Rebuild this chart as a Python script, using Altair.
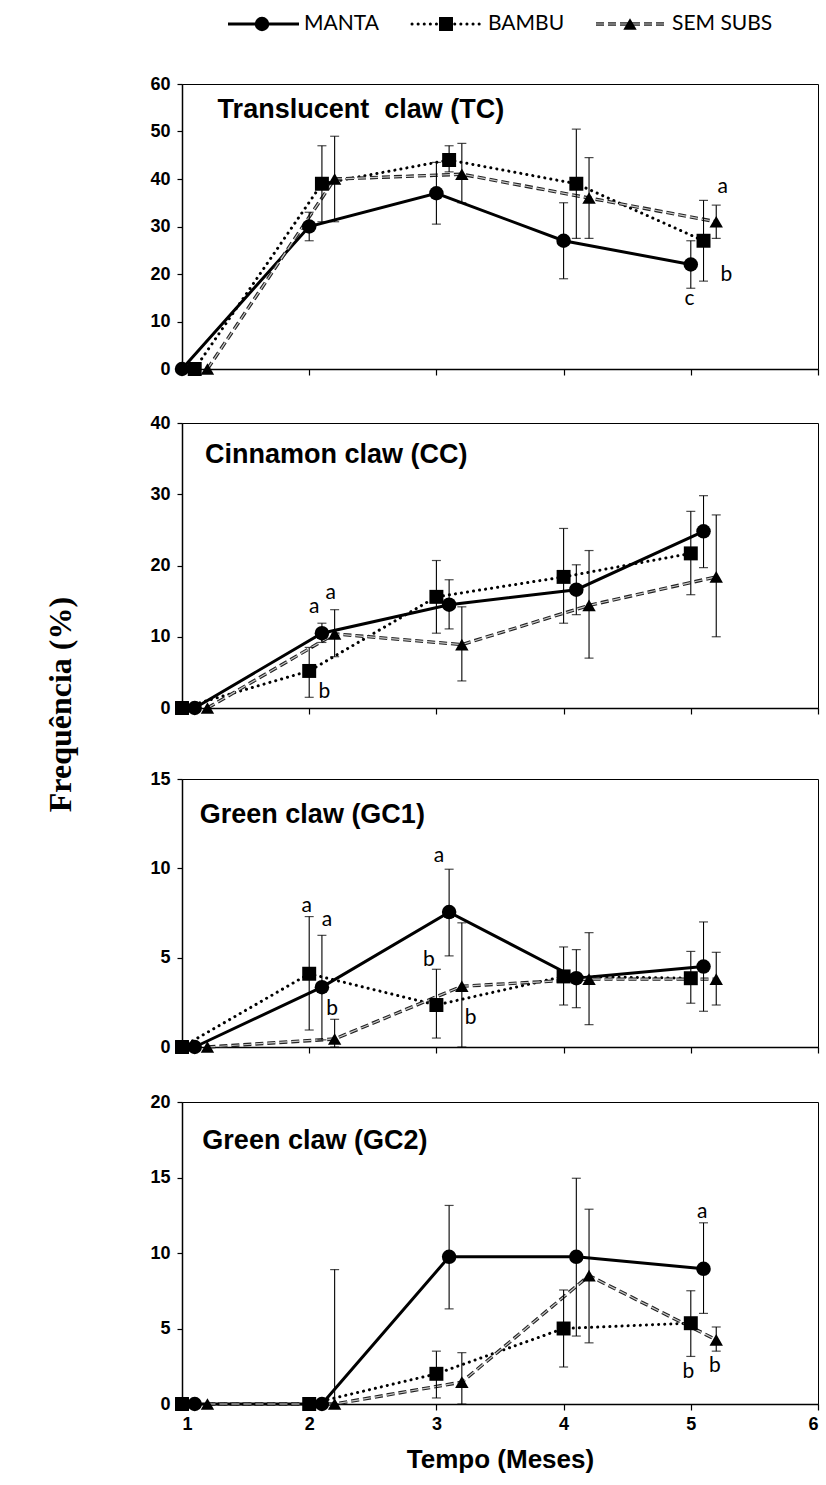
import altair as alt
import pandas as pd

# ---------------- data ----------------
months = [1, 2, 3, 4, 5]
series = ["MANTA", "BAMBU", "SEM SUBS"]

# Translucent claw (TC)
tc_manta = [0, 30, 37, 27, 22]
tc_manta_lo = [0, 27, 30.5, 19, 17]
tc_manta_hi = [0, 33, 43.5, 35, 27]
tc_bambu = [0, 39, 44, 39, 27]
tc_bambu_lo = [0, 31, 41.5, 27.5, 18.5]
tc_bambu_hi = [0, 47, 47, 50.5, 35.5]
tc_sem = [0, 40, 41, 36, 31]
tc_sem_lo = [0, 31, 35, 27.5, 27.5]
tc_sem_hi = [0, 49, 47.5, 44.5, 34.5]
tc_letters = ["a", "b", "c"]
tc_letters_x = [5.25, 5.28, 4.99]
tc_letters_y = [38.3, 19.8, 14.8]

# Cinnamon claw (CC)
cc_manta = [0, 10.5, 14.5, 16.6, 24.8]
cc_manta_lo = [0, 9.2, 11.1, 13.1, 19.7]
cc_manta_hi = [0, 11.9, 18.0, 20.1, 29.8]
cc_bambu = [0, 5.2, 15.6, 18.4, 21.7]
cc_bambu_lo = [0, 1.5, 10.5, 11.9, 15.9]
cc_bambu_hi = [0, 8.5, 20.7, 25.2, 27.6]
cc_sem = [0, 10.4, 8.9, 14.4, 18.4]
cc_sem_lo = [0, 7.2, 3.8, 7.0, 10.0]
cc_sem_hi = [0, 13.8, 14.2, 22.1, 27.1]
cc_letters = ["a", "a", "b"]
cc_letters_x = [2.04, 2.17, 2.12]
cc_letters_y = [14.2, 16.2, 2.2]

# Green claw (GC1)
gc1_manta = [0, 3.35, 7.55, 3.85, 4.5]
gc1_manta_lo = [0, 0.4, 5.1, 2.2, 2.0]
gc1_manta_hi = [0, 6.25, 9.95, 5.45, 7.0]
gc1_bambu = [0, 4.1, 2.35, 3.95, 3.85]
gc1_bambu_lo = [0, 0.95, 0.5, 2.35, 2.45]
gc1_bambu_hi = [0, 7.3, 4.35, 5.6, 5.35]
gc1_sem = [0, 0.45, 3.4, 3.8, 3.8]
gc1_sem_lo = [0, 0, 0, 1.25, 2.35]
gc1_sem_hi = [0, 1.55, 6.95, 6.4, 5.3]
gc1_letters = ["a", "a", "b", "a", "b", "b"]
gc1_letters_x = [1.98, 2.14, 2.18, 3.02, 2.94, 3.27]
gc1_letters_y = [7.9, 7.1, 2.1, 10.7, 4.85, 1.6]

# Green claw (GC2)
gc2_manta = [0, 0, 9.75, 9.75, 8.95]
gc2_manta_lo = [0, 0, 6.3, 4.5, 6.0]
gc2_manta_hi = [0, 0, 13.15, 14.95, 12.0]
gc2_bambu = [0, 0, 2.0, 5.0, 5.35]
gc2_bambu_lo = [0, 0, 0.4, 2.45, 3.15]
gc2_bambu_hi = [0, 0, 3.5, 7.55, 7.5]
gc2_sem = [0, 0, 1.45, 8.5, 4.25]
gc2_sem_lo = [0, 0, 0, 4.05, 3.5]
gc2_sem_hi = [0, 8.9, 3.4, 12.9, 5.1]
gc2_letters = ["a", "b", "b"]
gc2_letters_x = [5.09, 4.98, 5.19]
gc2_letters_y = [12.7, 2.1, 2.5]

# horizontal shift of each series around the month (display only)
shift_tc = {"MANTA": 0.0, "BAMBU": 0.1, "SEM SUBS": 0.2}
shift_other = {"BAMBU": 0.0, "MANTA": 0.1, "SEM SUBS": 0.2}

# ---------------- styling ----------------
PW = 636
NUM_FONT = "Liberation Sans"
TXT_FONT = "Lato"
TITLE_FONT = "Liberation Sans"

shape_scale = alt.Scale(domain=series, range=["circle", "square", "triangle-up"])
size_scale = alt.Scale(domain=series, range=[210, 180, 180])


def build(vals, los, his, shift):
    rows = []
    for s in series:
        for i, m in enumerate(months):
            rows.append({"series": s, "month": m, "x": m + shift[s],
                         "v": vals[s][i], "lo": los[s][i], "hi": his[s][i]})
    return pd.DataFrame(rows)


def panel(df, letters, lx, ly, title, tx, ty, ymax, ystep, height, last=False):
    xs = alt.Scale(domain=[1, 6], nice=False, zero=False)
    ys = alt.Scale(domain=[0, ymax], nice=False)
    if last:
        xax = alt.Axis(values=[1, 2, 3, 4, 5, 6], format="d", grid=False, tickSize=6,
                       labelFont=NUM_FONT, labelFontWeight="bold", labelFontSize=18,
                       labelPadding=5, title="Tempo (Meses)", titleFont=TITLE_FONT,
                       titleFontWeight="bold", titleFontSize=26, titlePadding=13,
                       labelColor="black", titleColor="black")
    else:
        xax = alt.Axis(values=[1, 2, 3, 4, 5, 6], grid=False, tickSize=6, labels=False, title=None)
    yax = alt.Axis(values=list(range(0, ymax + 1, ystep)), grid=False, tickSize=5,
                   labelFont=NUM_FONT, labelFontWeight="bold", labelFontSize=18,
                   labelPadding=7, labelColor="black", title=None)
    base = alt.Chart(df)

    manta_line = base.mark_line(color="black", strokeWidth=3).encode(
        x=alt.X("x:Q", scale=xs, axis=xax),
        y=alt.Y("v:Q", scale=ys, axis=yax)).transform_filter(alt.datum.series == "MANTA")
    bambu_line = base.mark_line(color="black", strokeWidth=3, strokeDash=[0.1, 6],
                                strokeCap="round").encode(x="x:Q", y="v:Q").transform_filter(
        alt.datum.series == "BAMBU")
    sem_line = base.mark_line(color="#222222", strokeWidth=3.4, strokeDash=[8, 4]).encode(
        x="x:Q", y="v:Q").transform_filter(alt.datum.series == "SEM SUBS")
    sem_line2 = base.mark_line(color="#c8c8c8", strokeWidth=1.2, strokeDash=[8, 4]).encode(
        x="x:Q", y="v:Q").transform_filter(alt.datum.series == "SEM SUBS")

    err = base.transform_filter(alt.datum.hi > alt.datum.lo)
    rules = err.mark_rule(color="black", strokeWidth=1.1).encode(x="x:Q", y="lo:Q", y2="hi:Q")
    cap_lo = err.mark_tick(orient="horizontal", size=9, thickness=1.2, color="black").encode(
        x="x:Q", y="lo:Q")
    cap_hi = err.mark_tick(orient="horizontal", size=9, thickness=1.2, color="black").encode(
        x="x:Q", y="hi:Q")

    pts = base.mark_point(filled=True, opacity=1, color="black").encode(
        x="x:Q", y="v:Q",
        shape=alt.Shape("series:N", scale=shape_scale, legend=None),
        size=alt.Size("series:N", scale=size_scale, legend=None))

    ldf = pd.DataFrame({"t": letters, "x": lx, "y": ly})
    let = alt.Chart(ldf).mark_text(font=TXT_FONT, fontSize=21, color="black").encode(
        x="x:Q", y="y:Q", text="t:N")

    tdf = pd.DataFrame({"t": [title], "x": [tx], "y": [ty]})
    ttl = alt.Chart(tdf).mark_text(align="left", baseline="middle", font=TITLE_FONT,
                                   fontWeight="bold", fontSize=27, color="black").encode(
        x="x:Q", y="y:Q", text="t:N")

    return alt.layer(manta_line, bambu_line, sem_line, sem_line2, rules, cap_lo, cap_hi,
                     pts, let, ttl).properties(width=PW, height=height)


df_tc = build({"MANTA": tc_manta, "BAMBU": tc_bambu, "SEM SUBS": tc_sem},
              {"MANTA": tc_manta_lo, "BAMBU": tc_bambu_lo, "SEM SUBS": tc_sem_lo},
              {"MANTA": tc_manta_hi, "BAMBU": tc_bambu_hi, "SEM SUBS": tc_sem_hi}, shift_tc)
df_cc = build({"MANTA": cc_manta, "BAMBU": cc_bambu, "SEM SUBS": cc_sem},
              {"MANTA": cc_manta_lo, "BAMBU": cc_bambu_lo, "SEM SUBS": cc_sem_lo},
              {"MANTA": cc_manta_hi, "BAMBU": cc_bambu_hi, "SEM SUBS": cc_sem_hi}, shift_other)
df_g1 = build({"MANTA": gc1_manta, "BAMBU": gc1_bambu, "SEM SUBS": gc1_sem},
              {"MANTA": gc1_manta_lo, "BAMBU": gc1_bambu_lo, "SEM SUBS": gc1_sem_lo},
              {"MANTA": gc1_manta_hi, "BAMBU": gc1_bambu_hi, "SEM SUBS": gc1_sem_hi}, shift_other)
df_g2 = build({"MANTA": gc2_manta, "BAMBU": gc2_bambu, "SEM SUBS": gc2_sem},
              {"MANTA": gc2_manta_lo, "BAMBU": gc2_bambu_lo, "SEM SUBS": gc2_sem_lo},
              {"MANTA": gc2_manta_hi, "BAMBU": gc2_bambu_hi, "SEM SUBS": gc2_sem_hi}, shift_other)

p1 = panel(df_tc, tc_letters, tc_letters_x, tc_letters_y, "Translucent\u00a0 claw (TC)",
           1.28, 54.5, 60, 10, 285)
p2 = panel(df_cc, cc_letters, cc_letters_x, cc_letters_y, "Cinnamon claw (CC)",
           1.18, 35.5, 40, 10, 285)
p3 = panel(df_g1, gc1_letters, gc1_letters_x, gc1_letters_y, "Green claw (GC1)",
           1.14, 13.0, 15, 5, 268)
p4 = panel(df_g2, gc2_letters, gc2_letters_x, gc2_letters_y, "Green claw (GC2)",
           1.16, 17.4, 20, 5, 302, last=True)

# ---------------- legend ----------------
leg_df = pd.DataFrame({"series": series})
lgx = alt.X("series:N", scale=alt.Scale(type="point", domain=series, range=[80, 448], padding=0),
            axis=None)
lb = alt.Chart(leg_df).encode(x=lgx, y=alt.value(10))
lg_manta = lb.mark_rule(color="black", strokeWidth=3, xOffset=-34, x2Offset=37).encode(
    x2=alt.X2("series:N")).transform_filter(alt.datum.series == "MANTA")
lg_bambu = lb.mark_rule(color="black", strokeWidth=3, strokeDash=[0.1, 6], strokeCap="round",
                        xOffset=-34, x2Offset=37).encode(
    x2=alt.X2("series:N")).transform_filter(alt.datum.series == "BAMBU")
lg_sem = lb.mark_rule(color="#222222", strokeWidth=3.4, strokeDash=[8, 4],
                      xOffset=-34, x2Offset=37).encode(
    x2=alt.X2("series:N")).transform_filter(alt.datum.series == "SEM SUBS")
lg_sem2 = lb.mark_rule(color="#c8c8c8", strokeWidth=1.2, strokeDash=[8, 4],
                       xOffset=-34, x2Offset=37).encode(
    x2=alt.X2("series:N")).transform_filter(alt.datum.series == "SEM SUBS")
lg_pts = lb.mark_point(filled=True, opacity=1, color="black").encode(
    shape=alt.Shape("series:N", scale=shape_scale, legend=None),
    size=alt.Size("series:N", scale=size_scale, legend=None))
lg_txt = lb.mark_text(align="left", baseline="middle", dx=42, font=TXT_FONT, fontSize=21,
                      color="black").encode(text="series:N")
legend = alt.layer(lg_manta, lg_bambu, lg_sem, lg_sem2, lg_pts, lg_txt).properties(
    width=PW, height=20, view=alt.ViewBackground(stroke="transparent"))

a = alt.vconcat(legend, p1, spacing=39)
b = alt.vconcat(a, p2, spacing=34)
c = alt.vconcat(b, p3, spacing=51)
chart = alt.vconcat(c, p4, spacing=35).properties(
    padding={"left": 45, "top": 12, "right": 3, "bottom": 5},
    background="white",
    title=alt.TitleParams(text="Frequência (%)", orient="left", anchor="middle",
                          font="Liberation Serif", fontSize=32, fontWeight="bold",
                          color="black", offset=71, dx=38),
).configure_view(stroke="black", strokeWidth=1).configure_axis(
    domainColor="black", domainWidth=1.5, tickColor="black", tickWidth=1.2
)

chart.save("out.html", embed_options={"renderer": "svg", "actions": False})
